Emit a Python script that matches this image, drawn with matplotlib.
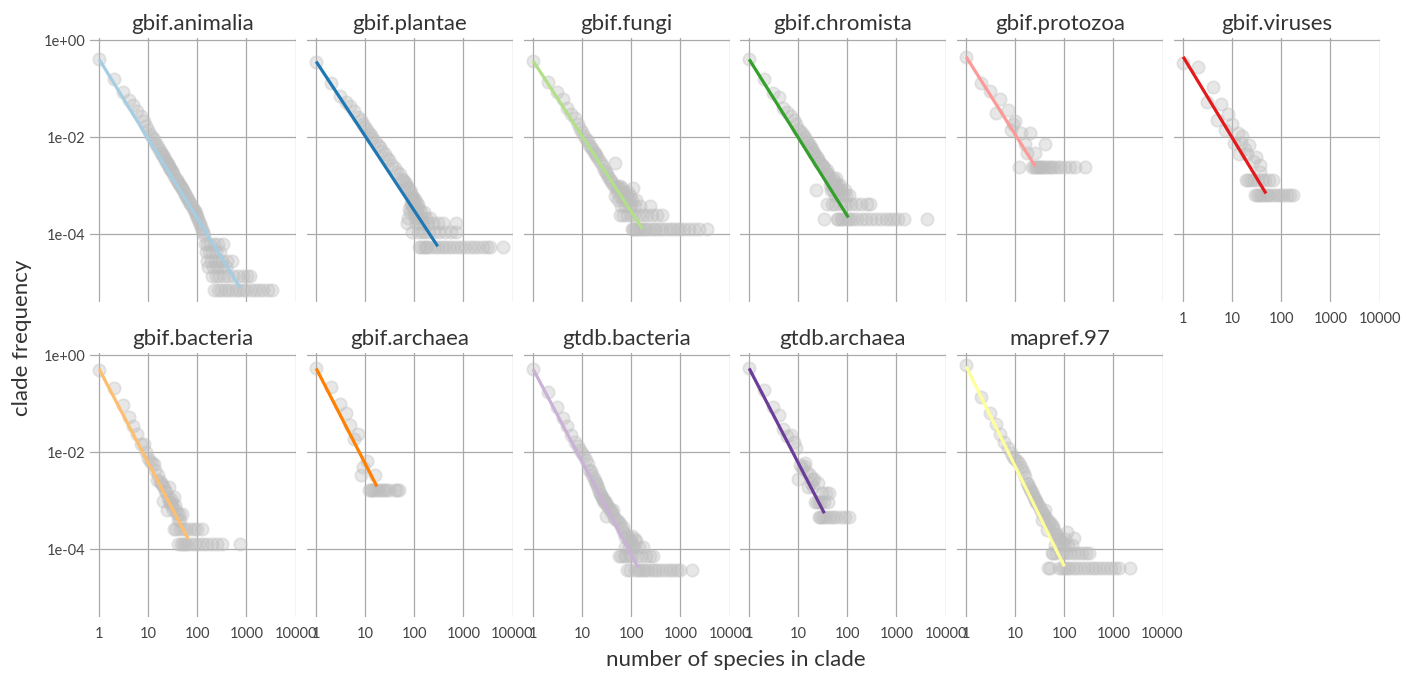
import matplotlib
matplotlib.use("Agg")
import matplotlib.pyplot as plt
from matplotlib.ticker import NullLocator, FixedLocator, FixedFormatter

plt.rcParams['font.family'] = ['Lato', 'DejaVu Sans']

# ---------------- data ----------------
panel_titles = ["gbif.animalia", "gbif.plantae", "gbif.fungi", "gbif.chromista",
                "gbif.protozoa", "gbif.viruses", "gbif.bacteria", "gbif.archaea",
                "gtdb.bacteria", "gtdb.archaea", "mapref.97"]
line_colors = ["#a6cee3", "#1f78b4", "#b2df8a", "#33a02c", "#fb9a99", "#e31a1c",
               "#fdbf6f", "#ff7f00", "#cab2d6", "#6a3d9a", "#ffff99"]

x_tick_values = [1, 10, 100, 1000, 10000]
x_tick_labels = ["1", "10", "100", "1000", "10000"]
y_tick_values = [1, 1e-2, 1e-4]
y_tick_labels = ["1e+00", "1e-02", "1e-04"]

# gbif.animalia
animalia_n = [1, 2, 3, 4, 5, 6, 7, 8, 9, 10, 11, 12, 13, 14, 15, 16, 17, 18, 19, 20,
              21, 22, 23, 24, 25, 26, 27, 28, 29, 30, 32, 34, 36, 38, 40, 42, 44, 46, 48, 50,
              53, 56, 59, 62, 65, 68, 72, 76, 80, 84, 88, 92, 96, 100, 105, 110, 115, 120, 126, 132, 138,
              145, 160, 185, 215, 260, 330,
              150, 175, 200, 240, 290,
              155, 190, 225, 270, 320, 400, 520,
              165, 210, 250, 310, 380,
              195, 235, 280, 350, 430, 540, 680, 850, 1050, 1200,
              220, 265, 300, 360, 420, 500, 600, 720, 860, 1000, 1250, 1500, 1800, 2200, 2700, 3300]
animalia_f = [0.40, 0.155, 0.086, 0.058, 0.045, 0.034, 0.027, 0.021, 0.0172, 0.0140, 0.0118, 0.0101,
              0.0090, 0.0077, 0.0069, 0.0059, 0.0055, 0.0048, 0.0045, 0.0040,
              0.0038, 0.0034, 0.0032, 0.0029, 0.0028, 0.0025, 0.0024, 0.0022, 0.0021, 0.0020,
              0.0018, 0.0016, 0.0014, 0.0013, 0.0012, 0.0011, 0.00104, 0.00093, 0.00088, 0.00080,
              0.00073, 0.00066, 0.00061, 0.00055, 0.00052, 0.00047, 0.00043, 0.00039, 0.00035, 0.00032,
              0.00030, 0.00027, 0.00025, 0.00023, 0.00021, 0.00018, 0.00016, 0.00014, 0.00012, 0.00011, 9.5e-5,
              6.3e-5, 6.3e-5, 6.3e-5, 6.3e-5, 6.3e-5, 6.3e-5,
              4.2e-5, 4.2e-5, 4.2e-5, 4.2e-5, 4.2e-5,
              2.8e-5, 2.8e-5, 2.8e-5, 2.8e-5, 2.8e-5, 2.8e-5, 2.8e-5,
              2.1e-5, 2.1e-5, 2.1e-5, 2.1e-5, 2.1e-5,
              1.4e-5, 1.4e-5, 1.4e-5, 1.4e-5, 1.4e-5, 1.4e-5, 1.4e-5, 1.4e-5, 1.4e-5, 1.4e-5,
              7e-6, 7e-6, 7e-6, 7e-6, 7e-6, 7e-6, 7e-6, 7e-6, 7e-6, 7e-6, 7e-6, 7e-6, 7e-6, 7e-6, 7e-6, 7e-6]

# gbif.plantae
plantae_n = [1, 2, 3, 4, 5, 6, 7, 8, 9, 10, 11, 12, 13, 14, 16, 18, 20, 22, 25, 28, 31, 35, 40, 45,
             50, 55, 60, 64, 68, 72, 76, 80, 85, 90,
             88, 98, 92, 105, 84, 96, 112, 86, 102, 118,
             78, 94, 108, 125, 82, 100, 115, 135, 160,
             74, 104, 120, 145, 175, 210,
             70, 110, 130, 150, 190, 240, 300, 380, 710,
             91, 116, 140, 165, 200, 250, 320, 420, 560, 700,
             122, 138, 155, 170, 185, 220, 260, 310, 360, 430, 520, 620, 750, 900, 1100,
             1350, 1650, 2000, 2500, 3000, 3500, 6300]
plantae_f = [0.36, 0.128, 0.071, 0.053, 0.043, 0.034, 0.026, 0.022, 0.0190, 0.0158, 0.0142, 0.0122,
             0.0113, 0.0098, 0.0085, 0.0069, 0.0062, 0.0052, 0.0045, 0.0037, 0.0034, 0.0027, 0.0023,
             0.0019, 0.0017, 0.0014, 0.0013, 0.0012, 0.0011, 0.00095, 0.00088, 0.0008, 0.0007, 0.00062,
             5.5e-4, 5.5e-4, 5e-4, 5e-4, 4.4e-4, 4.4e-4, 4.4e-4, 3.9e-4, 3.9e-4, 3.9e-4,
             3.3e-4, 3.3e-4, 3.3e-4, 3.3e-4, 2.8e-4, 2.8e-4, 2.8e-4, 2.8e-4, 2.8e-4,
             2.2e-4, 2.2e-4, 2.2e-4, 2.2e-4, 2.2e-4, 2.2e-4,
             1.66e-4, 1.66e-4, 1.66e-4, 1.66e-4, 1.66e-4, 1.66e-4, 1.66e-4, 1.66e-4, 1.66e-4,
             1.1e-4, 1.1e-4, 1.1e-4, 1.1e-4, 1.1e-4, 1.1e-4, 1.1e-4, 1.1e-4, 1.1e-4, 1.1e-4,
             5.5e-5, 5.5e-5, 5.5e-5, 5.5e-5, 5.5e-5, 5.5e-5, 5.5e-5, 5.5e-5, 5.5e-5, 5.5e-5, 5.5e-5,
             5.5e-5, 5.5e-5, 5.5e-5, 5.5e-5, 5.5e-5, 5.5e-5, 5.5e-5, 5.5e-5, 5.5e-5, 5.5e-5, 5.5e-5]

# gbif.fungi
fungi_n = [1, 2, 3, 4, 5, 6, 7, 8, 9, 10, 11, 12, 13, 14, 15, 16, 17, 18, 19, 20, 22, 24, 26, 28,
           30, 32, 34, 36, 38, 40, 46,
           44, 50, 58, 48, 55, 65, 110, 52, 62, 72, 85, 47, 60, 70, 80, 95,
           54, 67, 78, 90, 105, 125, 63, 75, 88, 99, 120, 150, 240,
           59, 68, 82, 98, 115, 140, 170, 210, 260, 330, 420,
           101, 108, 118, 130, 145, 160, 180, 200, 230, 270, 310, 360, 430, 500, 600, 700,
           850, 1000, 1200, 1500, 1900, 2400, 3500]
fungi_f = [0.37, 0.138, 0.086, 0.060, 0.040, 0.030, 0.025, 0.019, 0.015, 0.0125, 0.0105, 0.0093,
           0.0082, 0.0070, 0.0062, 0.0057, 0.0050, 0.0046, 0.0042, 0.0039, 0.0033, 0.0029, 0.0025,
           0.0021, 0.0019, 0.0017, 0.0015, 0.0014, 0.00125, 0.00113, 0.0029,
           1e-3, 1e-3, 1e-3, 8.75e-4, 8.75e-4, 8.75e-4, 8.75e-4, 7.5e-4, 7.5e-4, 7.5e-4, 7.5e-4,
           6.25e-4, 6.25e-4, 6.25e-4, 6.25e-4, 6.25e-4,
           5e-4, 5e-4, 5e-4, 5e-4, 5e-4, 5e-4, 3.75e-4, 3.75e-4, 3.75e-4, 3.75e-4, 3.75e-4, 3.75e-4, 3.75e-4,
           2.5e-4, 2.5e-4, 2.5e-4, 2.5e-4, 2.5e-4, 2.5e-4, 2.5e-4, 2.5e-4, 2.5e-4, 2.5e-4, 2.5e-4,
           1.25e-4, 1.25e-4, 1.25e-4, 1.25e-4, 1.25e-4, 1.25e-4, 1.25e-4, 1.25e-4, 1.25e-4, 1.25e-4,
           1.25e-4, 1.25e-4, 1.25e-4, 1.25e-4, 1.25e-4, 1.25e-4, 1.25e-4, 1.25e-4, 1.25e-4, 1.25e-4,
           1.25e-4, 1.25e-4, 1.25e-4]

# gbif.chromista
chromista_n = [1, 2, 3, 4, 5, 6, 7, 8, 9, 10, 11, 12, 13, 14, 15, 16, 17, 18, 19, 20, 21, 22, 24,
               25, 26, 28, 30, 32, 34, 36, 38, 40, 43, 46, 50, 55, 60,
               44, 48, 53, 58, 65, 71,
               23, 47, 52, 62, 68, 75, 90,
               56, 64, 80, 95, 110,
               39, 49, 57, 70, 85, 100, 120, 150, 190, 250, 290,
               33, 61, 66, 73, 78, 88, 105, 115, 130, 160, 200, 240, 300, 380, 480, 600,
               750, 900, 1100, 1400, 4200]
chromista_f = [0.40, 0.16, 0.082, 0.068, 0.039, 0.033, 0.027, 0.022, 0.019, 0.015, 0.0135, 0.012,
               0.0105, 0.0098, 0.0085, 0.0075, 0.0069, 0.0060, 0.0056, 0.0050, 0.0048, 0.0042,
               0.0038, 0.0035, 0.0031, 0.0029, 0.0027, 0.0025, 0.0023, 0.0019, 0.0021, 0.0017,
               0.0015, 0.00125, 0.00146, 0.00125, 0.00146,
               1.04e-3, 1.04e-3, 1.04e-3, 1.04e-3, 1.04e-3, 1.04e-3,
               8.3e-4, 8.3e-4, 8.3e-4, 8.3e-4, 8.3e-4, 8.3e-4, 8.3e-4,
               6.3e-4, 6.3e-4, 6.3e-4, 6.3e-4, 6.3e-4,
               4.2e-4, 4.2e-4, 4.2e-4, 4.2e-4, 4.2e-4, 4.2e-4, 4.2e-4, 4.2e-4, 4.2e-4, 4.2e-4, 4.2e-4,
               2.1e-4, 2.1e-4, 2.1e-4, 2.1e-4, 2.1e-4, 2.1e-4, 2.1e-4, 2.1e-4, 2.1e-4, 2.1e-4, 2.1e-4,
               2.1e-4, 2.1e-4, 2.1e-4, 2.1e-4, 2.1e-4, 2.1e-4, 2.1e-4, 2.1e-4, 2.1e-4, 2.1e-4]

# gbif.protozoa
protozoa_n = [1, 2, 3, 4, 5, 7, 8, 9, 10, 13, 16, 17, 20, 25, 41,
              12, 22, 24, 26, 28, 30, 32, 35, 38, 43, 48, 53, 60, 70, 83, 104, 130, 167, 267]
protozoa_f = [0.45, 0.129, 0.088, 0.031, 0.060, 0.036, 0.0143, 0.019, 0.0214, 0.0119, 0.0071,
              0.0048, 0.0119, 0.0048, 0.0071,
              0.0024, 0.0024, 0.0024, 0.0024, 0.0024, 0.0024, 0.0024, 0.0024, 0.0024, 0.0024,
              0.0024, 0.0024, 0.0024, 0.0024, 0.0024, 0.0024, 0.0024, 0.0024, 0.0024]

# gbif.viruses
viruses_n = [1, 2, 3, 4, 5, 6, 7, 8, 10, 11, 13, 14, 15, 16, 18, 20, 22, 27, 31, 36, 37,
             19, 21, 24, 28, 33, 40, 46, 55, 68,
             29, 32, 35, 39, 43, 48, 53, 60, 70, 80, 95, 110, 130, 150, 176]
viruses_f = [0.33, 0.28, 0.054, 0.106, 0.022, 0.048, 0.014, 0.030, 0.019, 0.0077, 0.012, 0.0045,
             0.0077, 0.0105, 0.0058, 0.0045, 0.0068, 0.0032, 0.0038, 0.0026, 0.0019,
             1.28e-3, 1.28e-3, 1.28e-3, 1.28e-3, 1.28e-3, 1.28e-3, 1.28e-3, 1.28e-3, 1.28e-3,
             6.4e-4, 6.4e-4, 6.4e-4, 6.4e-4, 6.4e-4, 6.4e-4, 6.4e-4, 6.4e-4, 6.4e-4, 6.4e-4,
             6.4e-4, 6.4e-4, 6.4e-4, 6.4e-4, 6.4e-4]

# gbif.bacteria
gbif_bacteria_n = [1, 2, 3, 4, 5, 6, 7, 8, 9, 10, 11, 12, 13, 14, 15, 16, 17, 18, 19, 20, 21, 22,
                   23, 24, 25, 26, 27, 28, 29, 30, 31, 32, 33, 35, 36, 38, 40, 42, 44, 48,
                   34, 37, 45, 52, 60, 70, 85, 100, 124,
                   41, 46, 50, 55, 63, 75, 90, 110, 130, 160, 200, 250, 316, 730]
gbif_bacteria_f = [0.49, 0.206, 0.094, 0.054, 0.035, 0.024, 0.015, 0.015, 0.0102, 0.0075, 0.0065,
                   0.0060, 0.0057, 0.0042, 0.0027, 0.0034, 0.0025, 0.0023, 0.0021, 0.0010, 0.0019,
                   0.0016, 0.0015, 0.00065, 0.0012, 0.0019, 0.0010, 0.0009, 0.0011, 0.00077, 0.0009,
                   0.00065, 0.0012, 0.00082, 0.00065, 0.00052, 0.00039, 0.00052, 0.00039, 0.00053,
                   2.58e-4, 2.58e-4, 2.58e-4, 2.58e-4, 2.58e-4, 2.58e-4, 2.58e-4, 2.58e-4, 2.58e-4,
                   1.29e-4, 1.29e-4, 1.29e-4, 1.29e-4, 1.29e-4, 1.29e-4, 1.29e-4, 1.29e-4, 1.29e-4,
                   1.29e-4, 1.29e-4, 1.29e-4, 1.29e-4, 1.29e-4]

# gbif.archaea
gbif_archaea_n = [1, 2, 3, 4, 5, 6, 7, 8, 9, 11, 16,
                  12, 13, 14, 15, 17, 19, 22, 24, 27, 30, 40, 45, 48]
gbif_archaea_f = [0.53, 0.22, 0.097, 0.063, 0.036, 0.019, 0.024, 0.0033, 0.005, 0.0067, 0.0033,
                  0.00167, 0.00167, 0.00167, 0.00167, 0.00167, 0.00167, 0.00167, 0.00167, 0.00167,
                  0.00167, 0.00167, 0.00167, 0.00167]

# gtdb.bacteria
gtdb_bacteria_n = [1, 2, 3, 4, 5, 6, 7, 8, 9, 10, 11, 12, 13, 14, 15, 16, 17, 18, 19, 20, 21, 22,
                   23, 24, 25, 26, 27, 28, 29, 30, 31, 32, 34, 36, 38, 40, 43, 45, 47, 50, 55, 60,
                   65, 68, 72, 76, 80, 85, 90, 100, 110, 118,
                   96, 125, 102,
                   74, 88, 115, 140, 175,
                   57, 63, 70, 78, 95, 105, 130, 160, 200, 240, 280,
                   82, 93, 120, 135, 150, 170, 190, 220, 260, 300, 350, 420, 500, 600, 720, 850, 980, 1700]
gtdb_bacteria_f = [0.51, 0.176, 0.084, 0.050, 0.034, 0.022, 0.016, 0.0135, 0.011, 0.0095, 0.0082,
                   0.0069, 0.0058, 0.0043, 0.0040, 0.0034, 0.0029, 0.0025, 0.0023, 0.0021, 0.0018,
                   0.0016, 0.0014, 0.0013, 0.0012, 0.0011, 0.00105, 0.00095, 0.0010, 0.00088, 0.00048,
                   0.00082, 0.00073, 0.00066, 0.00060, 0.00055, 0.00065, 0.00047, 0.00041, 0.00040,
                   0.00037, 0.00033, 0.00026, 0.00029, 0.00022, 0.00018, 0.00020, 0.00018, 0.00015,
                   0.00015, 0.00011, 0.00016,
                   1.47e-4, 1.47e-4, 1.83e-4,
                   1.1e-4, 1.1e-4, 1.1e-4, 1.1e-4, 1.1e-4,
                   7.3e-5, 7.3e-5, 7.3e-5, 7.3e-5, 7.3e-5, 7.3e-5, 7.3e-5, 7.3e-5, 7.3e-5, 7.3e-5, 7.3e-5,
                   3.66e-5, 3.66e-5, 3.66e-5, 3.66e-5, 3.66e-5, 3.66e-5, 3.66e-5, 3.66e-5, 3.66e-5,
                   3.66e-5, 3.66e-5, 3.66e-5, 3.66e-5, 3.66e-5, 3.66e-5, 3.66e-5, 3.66e-5, 3.66e-5]

# gtdb.archaea
gtdb_archaea_n = [1, 2, 3, 4, 5, 6, 7, 8, 9, 10, 11, 12, 13, 14, 15, 16, 17, 18, 19, 20, 21, 25,
                  31, 36, 43,
                  22, 24, 27, 29, 34, 40,
                  26, 28, 30, 33, 38, 45, 52, 60, 75, 90, 110]
gtdb_archaea_f = [0.53, 0.19, 0.084, 0.057, 0.030, 0.021, 0.022, 0.016, 0.012, 0.0028, 0.0055,
                  0.0047, 0.0052, 0.0059, 0.0038, 0.0019, 0.0033, 0.0023, 0.0028, 0.0019, 0.0028,
                  0.0023,
                  1.41e-3, 1.41e-3, 1.41e-3,
                  9.4e-4, 9.4e-4, 9.4e-4, 9.4e-4, 9.4e-4, 9.4e-4,
                  4.7e-4, 4.7e-4, 4.7e-4, 4.7e-4, 4.7e-4, 4.7e-4, 4.7e-4, 4.7e-4, 4.7e-4, 4.7e-4, 4.7e-4]

# mapref.97
mapref_n = [1, 2, 3, 4, 5, 6, 7, 8, 9, 10, 11, 12, 13, 14, 15, 16, 17, 18, 19, 20, 21, 22, 23, 24,
            25, 26, 27, 28, 30, 32, 34, 35, 36, 38, 40, 41, 44, 45, 48, 52, 55, 58, 62, 66, 70, 75,
            80, 90, 113, 155,
            72, 105, 64, 100, 120, 140,
            56, 60, 68, 85, 95, 110, 130, 160, 190, 230, 270, 313,
            46, 51, 78, 88, 98, 115, 125, 150, 175, 210, 250, 300, 360, 430, 520, 620, 750, 900,
            1100, 1300, 2150]
mapref_f = [0.62, 0.139, 0.063, 0.038, 0.024, 0.016, 0.012, 0.0095, 0.0081, 0.0072, 0.0066, 0.0059,
            0.0050, 0.0043, 0.0037, 0.0031, 0.0023, 0.0022, 0.0019, 0.0017, 0.0016, 0.0015, 0.0013,
            0.0012, 0.0011, 0.0010, 0.00095, 0.00088, 0.00076, 0.00072, 0.00062, 0.0004, 0.00055,
            0.0005, 0.00045, 0.00065, 0.00025, 0.00042, 0.00035, 0.00037, 0.00031, 0.00029, 0.00025,
            0.00021, 0.00021, 0.00018, 0.00016, 0.00014, 0.00023, 0.00017,
            1.64e-4, 1.64e-4, 1.23e-4, 1.23e-4, 1.23e-4, 1.23e-4,
            8.2e-5, 8.2e-5, 8.2e-5, 8.2e-5, 8.2e-5, 8.2e-5, 8.2e-5, 8.2e-5, 8.2e-5, 8.2e-5, 8.2e-5, 8.2e-5,
            4.1e-5, 4.1e-5, 4.1e-5, 4.1e-5, 4.1e-5, 4.1e-5, 4.1e-5, 4.1e-5, 4.1e-5, 4.1e-5, 4.1e-5,
            4.1e-5, 4.1e-5, 4.1e-5, 4.1e-5, 4.1e-5, 4.1e-5, 4.1e-5, 4.1e-5, 4.1e-5, 4.1e-5]

# fitted power-law line end points per panel (x from 1 to fit_x_end)
fit_x_start = [1, 1, 1, 1, 1, 1, 1, 1, 1, 1, 1]
fit_x_end = [755, 300, 167, 105, 25.5, 48.6, 64.6, 17.3, 139, 34, 100]
fit_y_start = [0.40, 0.36, 0.37, 0.40, 0.45, 0.45, 0.51, 0.53, 0.51, 0.53, 0.58]
fit_y_end = [7.7e-6, 5.6e-5, 1.3e-4, 2.2e-4, 2.5e-3, 6.9e-4, 1.64e-4, 1.95e-3, 4.1e-5, 5.5e-4, 4.4e-5]

sizes_list = [animalia_n, plantae_n, fungi_n, chromista_n, protozoa_n, viruses_n,
              gbif_bacteria_n, gbif_archaea_n, gtdb_bacteria_n, gtdb_archaea_n, mapref_n]
freq_list = [animalia_f, plantae_f, fungi_f, chromista_f, protozoa_f, viruses_f,
             gbif_bacteria_f, gbif_archaea_f, gtdb_bacteria_f, gtdb_archaea_f, mapref_f]

# ---------------- layout ----------------
W, H = 1417, 674
fig = plt.figure(figsize=(W / 100, H / 100), dpi=100)
col_left = [90, 307, 524, 740, 957, 1174]
row_top = [38, 353]
aw, ah = 205.5, 264

text_col = "#333333"
grid_col = "#a9a9a9"

for i, title in enumerate(panel_titles):
    r, c = divmod(i, 6)
    ax = fig.add_axes([col_left[c] / W, 1 - (row_top[r] + ah) / H, aw / W, ah / H])
    ax.set_xscale("log")
    ax.set_yscale("log")
    ax.set_xlim(0.65, 10000)
    ax.set_ylim(4e-6, 1.1)
    ax.scatter(sizes_list[i], freq_list[i], s=80, c="#bdbdbd", alpha=0.35,
               edgecolors="#bdbdbd", linewidths=1.3, zorder=2)
    ax.plot([fit_x_start[i], fit_x_end[i]], [fit_y_start[i], fit_y_end[i]],
            color=line_colors[i], lw=2.3, zorder=3, solid_capstyle="butt")
    ax.xaxis.set_major_locator(FixedLocator(x_tick_values))
    ax.xaxis.set_major_formatter(FixedFormatter(x_tick_labels))
    ax.yaxis.set_major_locator(FixedLocator(y_tick_values))
    ax.yaxis.set_major_formatter(FixedFormatter(y_tick_labels))
    ax.xaxis.set_minor_locator(NullLocator())
    ax.yaxis.set_minor_locator(NullLocator())
    ax.grid(True, which="major", color=grid_col, lw=0.9, zorder=0)
    ax.set_axisbelow(True)
    for s in ax.spines.values():
        s.set_visible(False)
    show_x = (r == 1) or (c == 5)
    show_y = (c == 0)
    ax.tick_params(axis="x", length=0, pad=7, labelsize=10.5, labelcolor="#444444",
                   labelbottom=show_x)
    ax.tick_params(axis="y", length=0, pad=3, labelsize=10.5, labelcolor="#444444",
                   labelleft=show_y)
    ax.set_title(title, fontsize=16, color=text_col, pad=6)

fig.text(736 / W, 1 - 660 / H, "number of species in clade", ha="center", va="center",
         fontsize=16, color=text_col)
fig.text(22 / W, 1 - 338 / H, "clade frequency", ha="center", va="center",
         rotation=90, fontsize=16, color=text_col)

fig.savefig("out.png", dpi=100, facecolor="white")
